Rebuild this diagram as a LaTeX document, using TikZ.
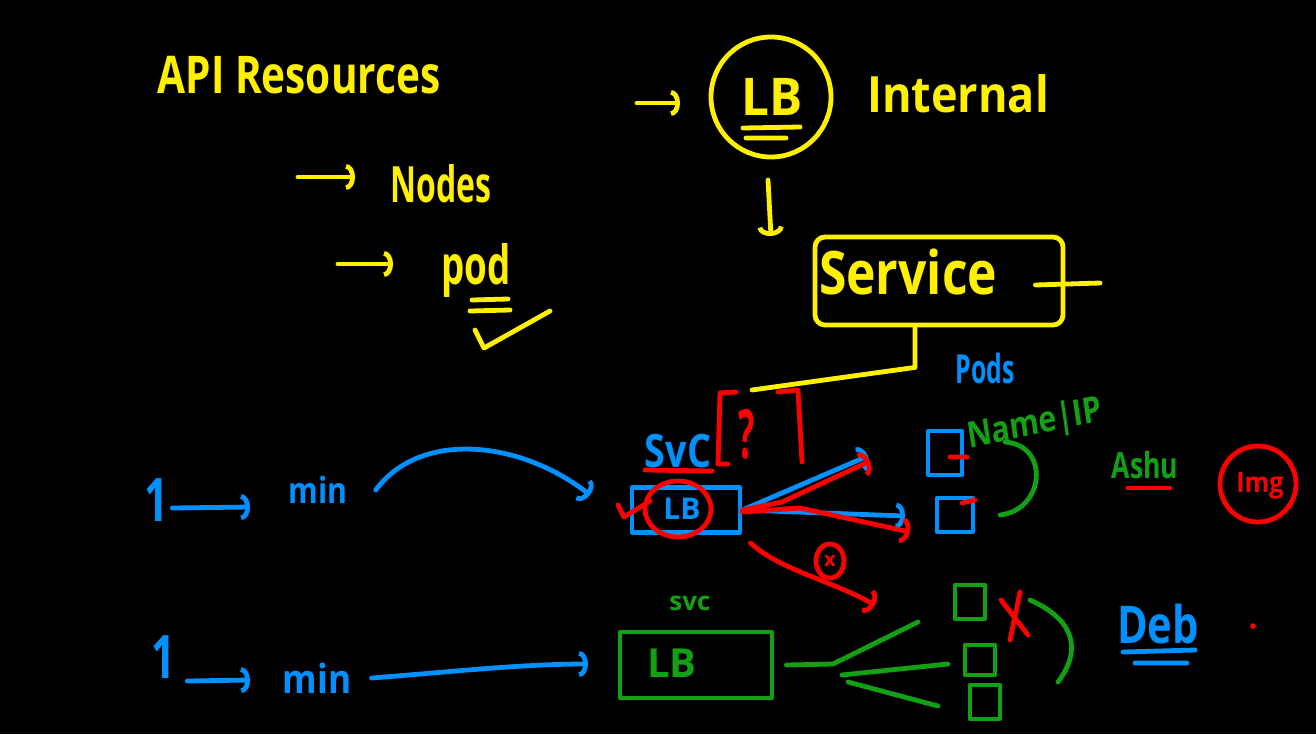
\documentclass[tikz,border=0pt]{standalone}
\usepackage{fontspec}
\setmainfont{Open Sans}
\usetikzlibrary{arrows.meta,shapes.geometric}
\definecolor{hwY}{RGB}{255,240,0}
\definecolor{hwB}{RGB}{0,145,255}
\definecolor{hwR}{RGB}{255,0,0}
\definecolor{hwG}{RGB}{20,160,20}
\newcommand{\hfs}[1]{\fontsize{#1}{#1}\selectfont\bfseries}
\begin{document}
\begin{tikzpicture}[x=0.5pt,y=-0.5pt,
  pen/.style={line width=2.4pt,line cap=round,line join=round},
  tip/.style={-{Arc Barb[length=4.5pt,width=13pt]}},
  lbl/.style={inner sep=0pt},
  box/.style={pen,draw,rectangle,inner sep=0pt},
  ring/.style={pen,draw,ellipse,inner sep=0pt}]
\useasboundingbox (0,0) rectangle (1316,734);
\fill[black] (0,0) rectangle (1316,734);

% ---------- yellow ----------
\node[lbl,text=hwY,font=\hfs{26pt},xscale=0.78] (api) at (299,75) {API Resources};
\node[lbl,text=hwY,font=\hfs{25pt},xscale=0.64] (nodes) at (441,184) {Nodes};
\node[lbl,text=hwY,font=\hfs{27pt},xscale=0.68] (pod) at (476,270) {pod};
\coordinate (a1s) at (298,177); \coordinate (a1e) at (355,177);
\coordinate (a2s) at (338,264); \coordinate (a2e) at (393,264);
\draw[pen,hwY,tip] (a1s) -- (a1e);
\draw[pen,hwY,tip] (a2s) -- (a2e);
\draw[pen,hwY] (472,300) -- (508,299) (470,311) -- (510,310);
\draw[pen,hwY] (475,330) -- (484,348) -- (550,311);

\node[ring,draw=hwY,minimum width=60pt,minimum height=60pt] (lbc) at (771,97) {};
\node[lbl,text=hwY,font=\hfs{26pt},xscale=0.95] (lbt) at (772,97) {LB};
\draw[pen,hwY] (743,128) -- (800,127) (746,138) -- (786,138);
\coordinate (a3s) at (637,103); \coordinate (a3e) at (680,103);
\draw[pen,hwY,tip] (a3s) -- (a3e);
\node[lbl,text=hwY,font=\hfs{25pt},xscale=0.9] (internal) at (958,94) {Internal};
\coordinate (a4s) at (768,180); \coordinate (a4e) at (771,236);
\draw[pen,hwY,tip] (a4s) -- (a4e);

\node[box,draw=hwY,rounded corners=5pt,minimum width=124pt,minimum height=44pt] (svcbox) at (939,281) {};
\node[lbl,text=hwY,font=\hfs{30pt},xscale=0.83] (service) at (908,272) {Service};
\coordinate (sr) at (1100,283);
\draw[pen,hwY] ([xshift=-15pt,yshift=-2pt]svcbox.east) -- (sr);
\coordinate (brk) at (752,390);
\draw[pen,hwY] ([xshift=-12pt]svcbox.south) -- ++(0,40) -- (brk);

% ---------- blue ----------
\node[lbl,text=hwB,font=\hfs{20pt},xscale=0.62] (pods) at (985,368) {Pods};
\node[lbl,text=hwB,font=\hfs{23pt},xscale=0.82] (svcb) at (678,451) {SvC};
\node[box,draw=hwB,minimum width=54pt,minimum height=22.5pt] (bbox) at (686,510) {};
\node[lbl,text=hwB,font=\hfs{15pt}] (lbb) at (682,509) {LB};
\node[box,draw=hwB,minimum width=17pt,minimum height=22pt] (pb1) at (945,453) {};
\node[box,draw=hwB,minimum width=18pt,minimum height=17pt] (pb2) at (955,515) {};
\coordinate (bt1) at (868,456); \coordinate (bt2) at (905,516);
\draw[pen,hwB,tip] (bbox.east) -- (bt1);
\draw[pen,hwB,tip] (bbox.east) -- (bt2);

\node[lbl,text=hwB,font=\hfs{30pt},xscale=0.7] (one1) at (156,500) {1};
\node[lbl,text=hwB,font=\hfs{18pt},xscale=0.84] (min1) at (318,490) {min};
\coordinate (o1e) at (250,507); \coordinate (c1e) at (590,495);
\draw[pen,hwB,tip] ([xshift=2pt,yshift=-4pt]one1.east) -- (o1e);
\draw[pen,hwB,tip] ([xshift=14pt]min1.east) .. controls (420,430) and (520,440) .. (c1e);

\node[lbl,text=hwB,font=\hfs{30pt},xscale=0.7] (one2) at (163,657) {1};
\node[lbl,text=hwB,font=\hfs{20pt},xscale=0.88] (min2) at (317,678) {min};
\coordinate (o2e) at (250,680); \coordinate (c2e) at (588,664);
\draw[pen,hwB,tip] ([xshift=6pt,yshift=-12pt]one2.east) -- (o2e);
\draw[pen,hwB,tip] ([xshift=10pt]min2.east) .. controls (450,672) and (520,664) .. (c2e);

\node[lbl,text=hwB,font=\hfs{26pt},xscale=0.8] (deb) at (1158,624) {Deb};
\draw[pen,hwB] (1123,652) -- (1195,650) (1135,663) -- (1187,663);

% ---------- red ----------
\draw[pen,hwR] (645,470) -- (712,471);
\node[ring,draw=hwR,minimum width=33pt,minimum height=28pt] (rc) at (678,509) {};
\draw[pen,hwR] (618,505) -- (624,517) -- (650,501);
\coordinate (rt1) at (870,461); \coordinate (rt2) at (910,532);
\draw[pen,hwR,tip] (bbox.east) -- (782,502) -- (rt1);
\draw[pen,hwR,tip] ([yshift=-1pt]bbox.east) -- (800,508) -- (rt2);
\draw[pen,hwR] (736,392) -- (720,393) -- (718,464) -- (728,464);
\draw[pen,hwR] (778,392) -- (798,390) -- (802,462);
\node[lbl,text=hwR,font=\hfs{34pt},xscale=0.5] (qm) at (747,434) {?};
\draw[pen,hwR] (950,457) -- (967,457) (962,503) -- (975,500);
\coordinate (rx) at (875,605);
\draw[pen,hwR,tip] ([xshift=4pt,yshift=-4pt]bbox.south east) .. controls (780,570) and (830,580) .. (rx);
\node[ring,draw=hwR,minimum width=14pt,minimum height=17pt] (xc) at (830,561) {};
\node[lbl,text=hwR,font=\hfs{10pt}] (xct) at (830,561) {x};
\draw[pen,hwR] (1128,488) -- (1170,488);
\node[ring,draw=hwR,minimum width=38pt,minimum height=38pt] (imgc) at (1258,484) {};
\node[lbl,text=hwR,font=\hfs{14pt},xscale=0.9] (img) at (1260,486) {Img};
\draw[pen,hwR] (1001,600) -- (1028,635) (1020,592) -- (1010,640);
\fill[hwR] (1253,626) circle (1.4pt);

% ---------- green ----------
\node[lbl,text=hwG,font=\hfs{18pt},xscale=0.84,rotate=10] (nameip) at (1035,425) {Name|IP};
\draw[pen,hwG] (1005,442) .. controls (1050,445) and (1045,510) .. (1000,515);
\node[lbl,text=hwG,font=\hfs{18pt},xscale=0.74] (ashu) at (1145,465) {Ashu};

\node[lbl,text=hwG,font=\hfs{13pt}] (svcg) at (690,603) {svc};
\node[box,draw=hwG,minimum width=76pt,minimum height=33pt] (gbox) at (696,665) {};
\node[lbl,text=hwG,font=\hfs{20pt}] (lbg) at (672,663) {LB};
\node[box,draw=hwG,minimum width=15pt,minimum height=17pt] (gp1) at (970,602) {};
\node[box,draw=hwG,minimum width=15pt,minimum height=15pt] (gp2) at (980,660) {};
\node[box,draw=hwG,minimum width=15pt,minimum height=17pt] (gp3) at (985,702) {};
\coordinate (j) at (833,664);
\coordinate (f1) at (918,622); \coordinate (f2) at (948,664); \coordinate (f3) at (938,706);
\draw[pen,hwG] ([xshift=6pt]gbox.east) -- (j) -- (f1);
\draw[pen,hwG] (842,675) -- (f2);
\draw[pen,hwG] (848,682) -- (f3);
\draw[pen,hwG] (1030,600) .. controls (1075,620) and (1082,650) .. (1058,682);
\end{tikzpicture}
\end{document}
